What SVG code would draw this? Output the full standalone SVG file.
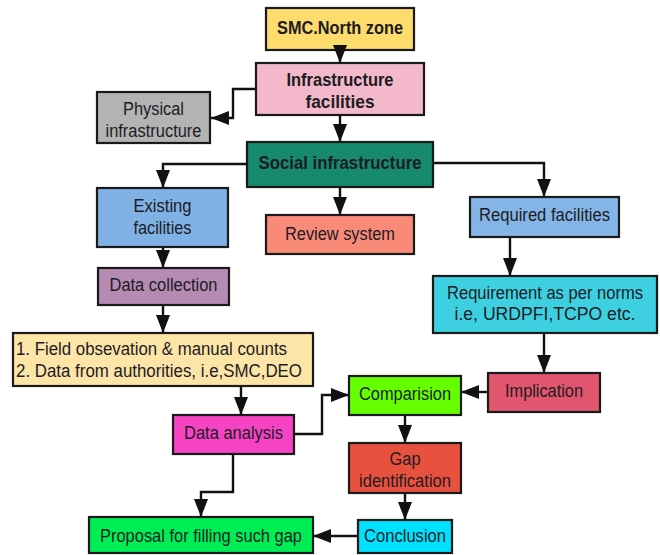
<svg xmlns="http://www.w3.org/2000/svg" width="660" height="555" viewBox="0 0 660 555">
<style>
.n rect{stroke:#1a1a1a;stroke-width:2.2}
text{font-family:"Liberation Sans",Arial,sans-serif;font-size:17.5px;fill:#1c1c24;text-anchor:middle}
.b{font-weight:bold}
.l{text-anchor:start}
.c path{fill:none;stroke:#111;stroke-width:2.4}
</style>
<defs>
<marker id="ah" markerUnits="userSpaceOnUse" markerWidth="18" markerHeight="14" refX="18" refY="7" orient="auto">
<path d="M0,0 L18,7 L0,14 z" fill="#111"/>
</marker>
</defs>
<rect width="660" height="555" fill="#fff"/>
<g class="n">
<g id="smc"><rect x="266" y="8" width="148" height="42" fill="#fddb6d"/><text class="b" x="340" y="34" textLength="126" lengthAdjust="spacingAndGlyphs">SMC.North zone</text></g>
<g id="infra"><rect x="256" y="63" width="168" height="52" fill="#f4b8cb"/><text class="b" x="340" y="86" textLength="107" lengthAdjust="spacingAndGlyphs">Infrastructure</text><text class="b" x="340" y="108" textLength="69" lengthAdjust="spacingAndGlyphs">facilities</text></g>
<g id="physical"><rect x="97" y="92" width="113" height="51" fill="#b3b3b3"/><text x="153.5" y="115" textLength="61" lengthAdjust="spacingAndGlyphs">Physical</text><text x="153.5" y="136.5" textLength="96" lengthAdjust="spacingAndGlyphs">infrastructure</text></g>
<g id="social"><rect x="247" y="142" width="186" height="45" fill="#178a6e"/><text class="b" x="340" y="168.5" textLength="163" lengthAdjust="spacingAndGlyphs">Social infrastructure</text></g>
<g id="existing"><rect x="97" y="188" width="131" height="59" fill="#7fb1e4"/><text x="162.5" y="211.5" textLength="58" lengthAdjust="spacingAndGlyphs">Existing</text><text x="162.5" y="233.5" textLength="58" lengthAdjust="spacingAndGlyphs">facilities</text></g>
<g id="review"><rect x="266" y="215" width="148" height="39" fill="#f98a78"/><text x="340" y="239.5" textLength="110" lengthAdjust="spacingAndGlyphs">Review system</text></g>
<g id="required"><rect x="470" y="197" width="149" height="40" fill="#85b4e6"/><text x="544.5" y="221" textLength="131" lengthAdjust="spacingAndGlyphs">Required facilities</text></g>
<g id="requirement"><rect x="433" y="276" width="224" height="57" fill="#3dd0e1"/><text x="545" y="298.5" textLength="196" lengthAdjust="spacingAndGlyphs">Requirement as per norms</text><text x="545" y="320" textLength="181" lengthAdjust="spacingAndGlyphs">i.e, URDPFI,TCPO etc.</text></g>
<g id="datacollection"><rect x="98" y="268" width="131" height="37" fill="#b58bb4"/><text x="163.5" y="290.5" textLength="108" lengthAdjust="spacingAndGlyphs">Data collection</text></g>
<g id="field"><rect x="13" y="333" width="300" height="53" fill="#fde4a7"/><text class="l" x="16" y="355" textLength="271" lengthAdjust="spacingAndGlyphs">1. Field obsevation &amp; manual counts</text><text class="l" x="16" y="377" textLength="286" lengthAdjust="spacingAndGlyphs">2. Data from authorities, i.e,SMC,DEO</text></g>
<g id="implication"><rect x="488" y="373" width="112" height="39" fill="#e1566e"/><text x="544" y="396.5" textLength="78" lengthAdjust="spacingAndGlyphs">Implication</text></g>
<g id="comparision"><rect x="349" y="376" width="112" height="39" fill="#66ff00"/><text x="405" y="399.5" textLength="92" lengthAdjust="spacingAndGlyphs">Comparision</text></g>
<g id="dataanalysis"><rect x="173" y="415" width="121" height="39" fill="#f543c4"/><text x="233.5" y="438.5" textLength="99" lengthAdjust="spacingAndGlyphs">Data analysis</text></g>
<g id="gap"><rect x="349" y="443" width="112" height="50" fill="#e9513f"/><text x="405" y="465" textLength="31" lengthAdjust="spacingAndGlyphs">Gap</text><text x="405" y="487" textLength="92" lengthAdjust="spacingAndGlyphs">identification</text></g>
<g id="proposal"><rect x="89" y="517" width="224" height="36" fill="#00ee55"/><text x="201" y="541.5" textLength="202" lengthAdjust="spacingAndGlyphs">Proposal for filling such gap</text></g>
<g id="conclusion"><rect x="358" y="520" width="94" height="33" fill="#00e1ff"/><text x="405" y="541.5" textLength="82" lengthAdjust="spacingAndGlyphs">Conclusion</text></g>
</g>
<g id="connectors" class="c">
<path d="M340,50 L340,63" marker-end="url(#ah)"/>
<path d="M256,89 L233,89 L233,118 L211,118" marker-end="url(#ah)"/>
<path d="M340,115 L340,142" marker-end="url(#ah)"/>
<path d="M247,164 L163,164 L163,188" marker-end="url(#ah)"/>
<path d="M340,187 L340,215" marker-end="url(#ah)"/>
<path d="M433,163 L544,163 L544,197" marker-end="url(#ah)"/>
<path d="M163,247 L163,268" marker-end="url(#ah)"/>
<path d="M510,237 L510,276" marker-end="url(#ah)"/>
<path d="M163,305 L163,333" marker-end="url(#ah)"/>
<path d="M544,333 L544,373" marker-end="url(#ah)"/>
<path d="M241,386 L241,415" marker-end="url(#ah)"/>
<path d="M294,434 L322,434 L322,395 L349,395" marker-end="url(#ah)"/>
<path d="M488,392 L461,392" marker-end="url(#ah)"/>
<path d="M405,415 L405,443" marker-end="url(#ah)"/>
<path d="M405,493 L405,520" marker-end="url(#ah)"/>
<path d="M358,536 L313,536" marker-end="url(#ah)"/>
<path d="M233,454 L233,492 L201,492 L201,517" marker-end="url(#ah)"/>
</g>
</svg>
